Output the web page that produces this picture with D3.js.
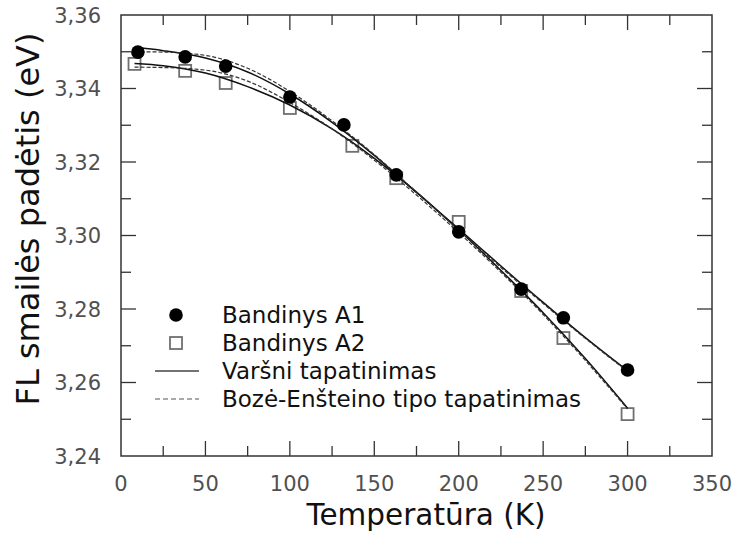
<!DOCTYPE html>
<html>
<head>
<meta charset="utf-8">
<script src="https://cdn.jsdelivr.net/npm/d3@7"></script>
<style>
  body { margin: 0; background: #fff; }
  svg { display: block; font-family: "DejaVu Sans", sans-serif; }
</style>
</head>
<body>
<div id="chart"></div>
<script>
// measured points
const tempA1 = [10, 38, 62, 100, 132, 163, 200, 237, 262, 300];
const energyA1 = [3.3499, 3.3486, 3.3461, 3.3377, 3.3301, 3.3165, 3.3010, 3.2854, 3.2776, 3.2634];
const tempA2 = [8, 38, 62, 100, 137, 163, 200, 237, 262, 300];
const energyA2 = [3.3467, 3.3448, 3.3415, 3.3347, 3.3244, 3.3156, 3.3037, 3.2849, 3.2721, 3.2514];

// fitted curves
const fitTemp = [8, 25, 50, 75, 100, 125, 150, 175, 200, 225, 250, 275, 300];
const varshniA1 = [3.3512, 3.3503, 3.3483, 3.3445, 3.3385, 3.3308, 3.3218, 3.3117, 3.3018, 3.2917, 3.2818, 3.2722, 3.2632];
const boseA1 = [3.3500, 3.3499, 3.3490, 3.3455, 3.3392, 3.3312, 3.3220, 3.3118, 3.3015, 3.2913, 3.2815, 3.2720, 3.2630];
const varshniA2 = [3.3468, 3.3462, 3.3442, 3.3405, 3.3355, 3.3290, 3.3210, 3.3118, 3.3015, 3.2905, 3.2790, 3.2665, 3.2530];
const boseA2 = [3.3458, 3.3457, 3.3450, 3.3420, 3.3362, 3.3290, 3.3205, 3.3110, 3.3008, 3.2900, 3.2785, 3.2660, 3.2528];

const xTicks = [0, 50, 100, 150, 200, 250, 300, 350];
const yTicks = [3.24, 3.26, 3.28, 3.30, 3.32, 3.34, 3.36];
const legendLabels = ["Bandinys A1", "Bandinys A2", "Varšni tapatinimas", "Bozė-Enšteino tipo tapatinimas"];

const width = 737, height = 533;
const margin = { top: 15, right: 25, bottom: 77, left: 121 };

const svg = d3.select("#chart").append("svg")
    .attr("width", width)
    .attr("height", height);

const x = d3.scaleLinear().domain([0, 350]).range([margin.left, width - margin.right]);
const y = d3.scaleLinear().domain([3.24, 3.36]).range([height - margin.bottom, margin.top]);

const fmt = d => d3.format(".2f")(d).replace(".", ",");
const xMinor = d3.range(25, 350, 50);
const yMinor = d3.range(3.25, 3.36, 0.02);

// ticks pointing inward on all four sides
const axisColor = "#333";
function tickMarks(scale, vals, len, side) {
    const g = svg.append("g").attr("stroke", axisColor).attr("stroke-width", 1.3);
    g.selectAll("line").data(vals).join("line")
        .attr("x1", d => side === "b" || side === "t" ? scale(d) : (side === "l" ? x(0) : x(350)))
        .attr("x2", d => side === "b" || side === "t" ? scale(d) : (side === "l" ? x(0) + len : x(350) - len))
        .attr("y1", d => side === "l" || side === "r" ? scale(d) : (side === "b" ? y(3.24) : y(3.36)))
        .attr("y2", d => side === "l" || side === "r" ? scale(d) : (side === "b" ? y(3.24) - len : y(3.36) + len));
}
tickMarks(x, xTicks.slice(1, -1), 15, "b");
tickMarks(x, xMinor, 10, "b");
tickMarks(x, xTicks.slice(1, -1), 15, "t");
tickMarks(x, xMinor, 10, "t");
tickMarks(y, yTicks.slice(1, -1), 15, "l");
tickMarks(y, yMinor, 10, "l");
tickMarks(y, yTicks.slice(1, -1), 15, "r");
tickMarks(y, yMinor, 10, "r");

svg.append("rect")
    .attr("x", x(0)).attr("y", y(3.36))
    .attr("width", x(350) - x(0)).attr("height", y(3.24) - y(3.36))
    .attr("fill", "none").attr("stroke", axisColor).attr("stroke-width", 1.5);

// tick labels
svg.append("g").selectAll("text").data(xTicks).join("text")
    .attr("x", d => x(d)).attr("y", 491)
    .attr("text-anchor", "middle")
    .attr("font-size", 21).attr("fill", "#505050")
    .text(d => d);

svg.append("g").selectAll("text").data(yTicks).join("text")
    .attr("x", 101).attr("y", d => y(d)).attr("dy", "0.36em")
    .attr("text-anchor", "end")
    .attr("font-size", 21).attr("fill", "#505050")
    .text(fmt);

// axis titles
svg.append("text")
    .attr("x", 426).attr("y", 525)
    .attr("text-anchor", "middle")
    .attr("font-size", 29.5).attr("fill", "#111")
    .text("Temperatūra (K)");

svg.append("text")
    .attr("transform", "translate(39,219) rotate(-90)")
    .attr("text-anchor", "middle")
    .attr("font-size", 32).attr("fill", "#111")
    .text("FL smailės padėtis (eV)");

// squares under the lines
const sq = 12;
svg.append("g").selectAll("rect").data(d3.zip(tempA2, energyA2)).join("rect")
    .attr("x", d => x(d[0]) - sq / 2).attr("y", d => y(d[1]) - sq / 2)
    .attr("width", sq).attr("height", sq)
    .attr("fill", "none").attr("stroke", "#707070").attr("stroke-width", 1.8);

const line = d3.line()
    .x(d => x(d[0])).y(d => y(d[1]))
    .curve(d3.curveMonotoneX);

const curves = [
    { vals: varshniA1, dash: null },
    { vals: varshniA2, dash: null },
    { vals: boseA1, dash: "4,2" },
    { vals: boseA2, dash: "4,2" }
];
svg.append("g").selectAll("path").data(curves).join("path")
    .attr("d", c => line(d3.zip(fitTemp, c.vals)))
    .attr("fill", "none")
    .attr("stroke", c => c.dash ? "#333" : "#111")
    .attr("stroke-width", c => c.dash ? 1.2 : 1.5)
    .attr("stroke-dasharray", c => c.dash);

svg.append("g").selectAll("circle").data(d3.zip(tempA1, energyA1)).join("circle")
    .attr("cx", d => x(d[0])).attr("cy", d => y(d[1]))
    .attr("r", 6.8).attr("fill", "#000");

// legend
const legendY = [315, 343, 371, 399];
const lg = svg.append("g");
lg.append("circle").attr("cx", 176).attr("cy", legendY[0]).attr("r", 6.8).attr("fill", "#000");
lg.append("rect").attr("x", 176 - sq / 2).attr("y", legendY[1] - sq / 2)
    .attr("width", sq).attr("height", sq)
    .attr("fill", "none").attr("stroke", "#707070").attr("stroke-width", 1.8);
lg.append("line").attr("x1", 155).attr("x2", 199).attr("y1", legendY[2]).attr("y2", legendY[2])
    .attr("stroke", "#444").attr("stroke-width", 1.5);
lg.append("line").attr("x1", 155).attr("x2", 199).attr("y1", legendY[3]).attr("y2", legendY[3])
    .attr("stroke", "#555").attr("stroke-width", 1.2).attr("stroke-dasharray", "5,3");
lg.selectAll("text").data(legendLabels).join("text")
    .attr("x", 222).attr("y", (d, i) => legendY[i] + 8)
    .attr("font-size", 23).attr("fill", "#111")
    .text(d => d);
</script>
</body>
</html>
